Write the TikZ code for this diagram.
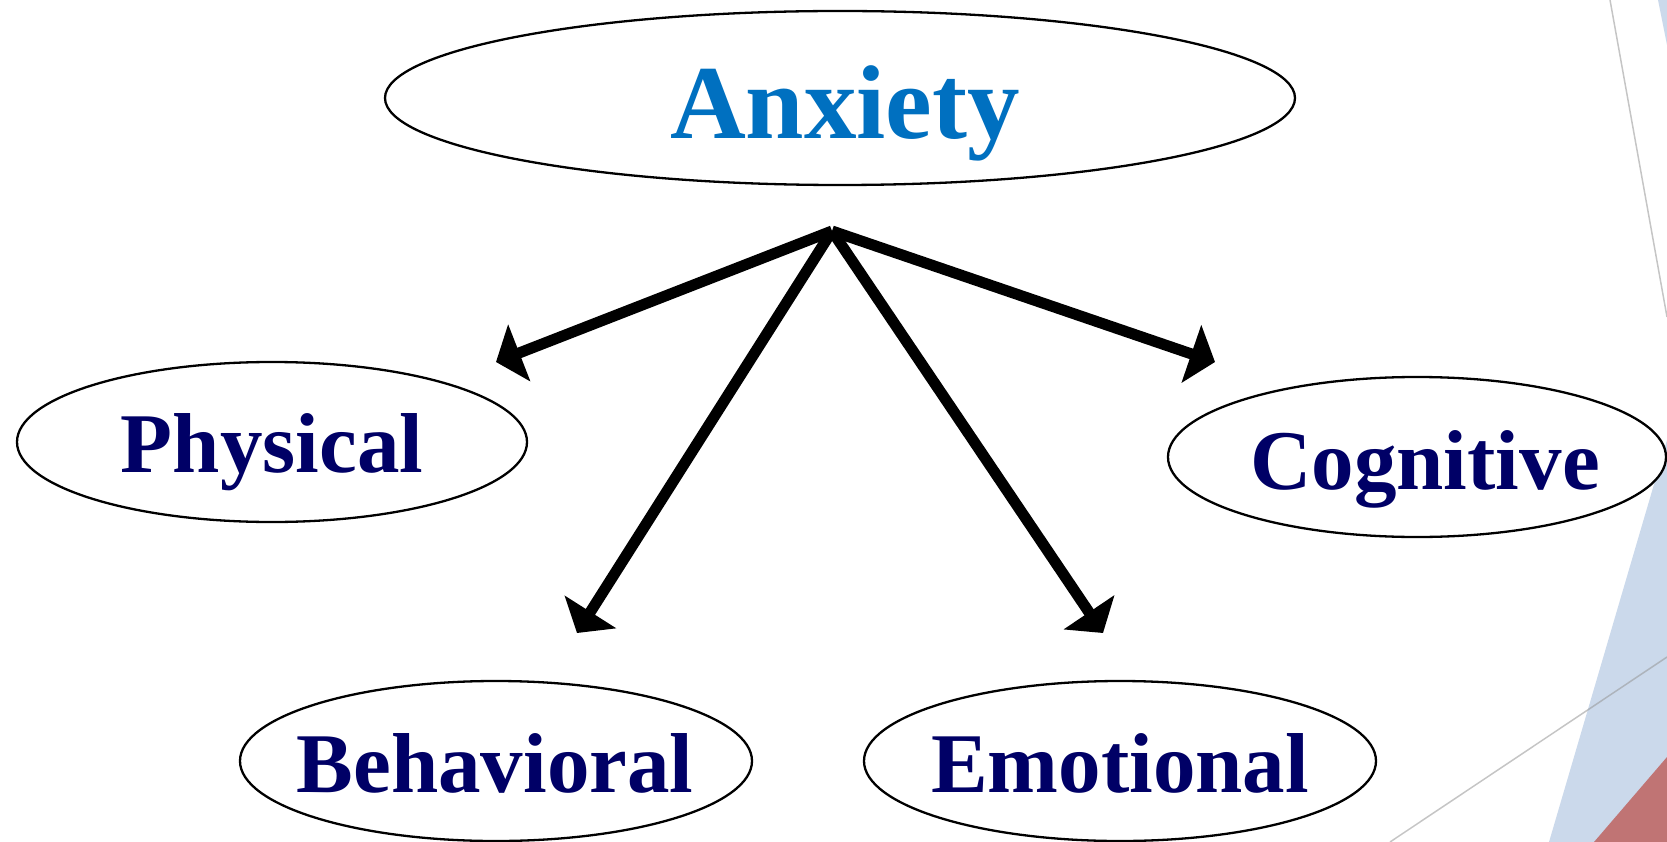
\documentclass[tikz,border=0pt]{standalone}
\usepackage{fontspec}
\setmainfont{Liberation Serif}
\usetikzlibrary{shapes.geometric, arrows.meta}
\definecolor{anxblue}{RGB}{0,112,192}
\definecolor{navy}{RGB}{0,0,102}
\definecolor{bgblue}{RGB}{203,217,235}
\definecolor{bgred}{RGB}{192,116,116}
\definecolor{bgline}{RGB}{150,150,150}
\begin{document}
\begin{tikzpicture}[x=1pt,y=-1pt,
  oval/.style={ellipse, draw=black, line width=2.3pt, fill=white, inner sep=0pt},
  bigtxt/.style={anchor=base, inner sep=0pt, text=anxblue, font=\bfseries\fontsize{105}{110}\selectfont},
  subtxt/.style={anchor=base, inner sep=0pt, text=navy, font=\bfseries\fontsize{85}{90}\selectfont},
  conn/.style={line width=11pt, -{Triangle[length=25pt,width=60pt]}},
  bgstroke/.style={draw=bgline, line width=1.5pt, draw opacity=0.55}]
\useasboundingbox (0,0) rectangle (1667,842);
% background decoration
\fill[bgblue] (1658,0) -- (1667,0) -- (1667,45) -- cycle;
\fill[bgblue] (1667,440) -- (1549,842) -- (1667,842) -- cycle;
\fill[bgred] (1667,757) -- (1594,842) -- (1667,842) -- cycle;
\draw[bgstroke] (1610,0) -- (1667,317);
\draw[bgstroke] (1390,842) -- (1667,657);
% ellipses
\node[oval, minimum width=910pt, minimum height=174pt] (anx) at (840,98) {};
\node[oval, minimum width=510pt, minimum height=160pt] (phy) at (272,442) {};
\node[oval, minimum width=498pt, minimum height=160pt] (cog) at (1417,457) {};
\node[oval, minimum width=512pt, minimum height=160pt] (beh) at (496,761) {};
\node[oval, minimum width=512pt, minimum height=160pt] (emo) at (1120,761) {};
% labels
\node[bigtxt] (anxt) at (845,139) {Anxiety};
\node[subtxt] (phyt) at (272,472) {Physical};
\node[subtxt] (cogt) at (1425,489) {Cognitive};
\node[subtxt] (beht) at (495,792) {Behavioral};
\node[subtxt] (emot) at (1120,792) {Emotional};
% connectors
\coordinate (hub) at (832,231);
\coordinate (tP) at (496,362);
\coordinate (tC) at (1215,362);
\coordinate (tB) at (577,633);
\coordinate (tE) at (1103,633);
\draw[conn] (hub) -- (tP);
\draw[conn] (hub) -- (tC);
\draw[conn] (hub) -- (tB);
\draw[conn] (hub) -- (tE);
\end{tikzpicture}
\end{document}
